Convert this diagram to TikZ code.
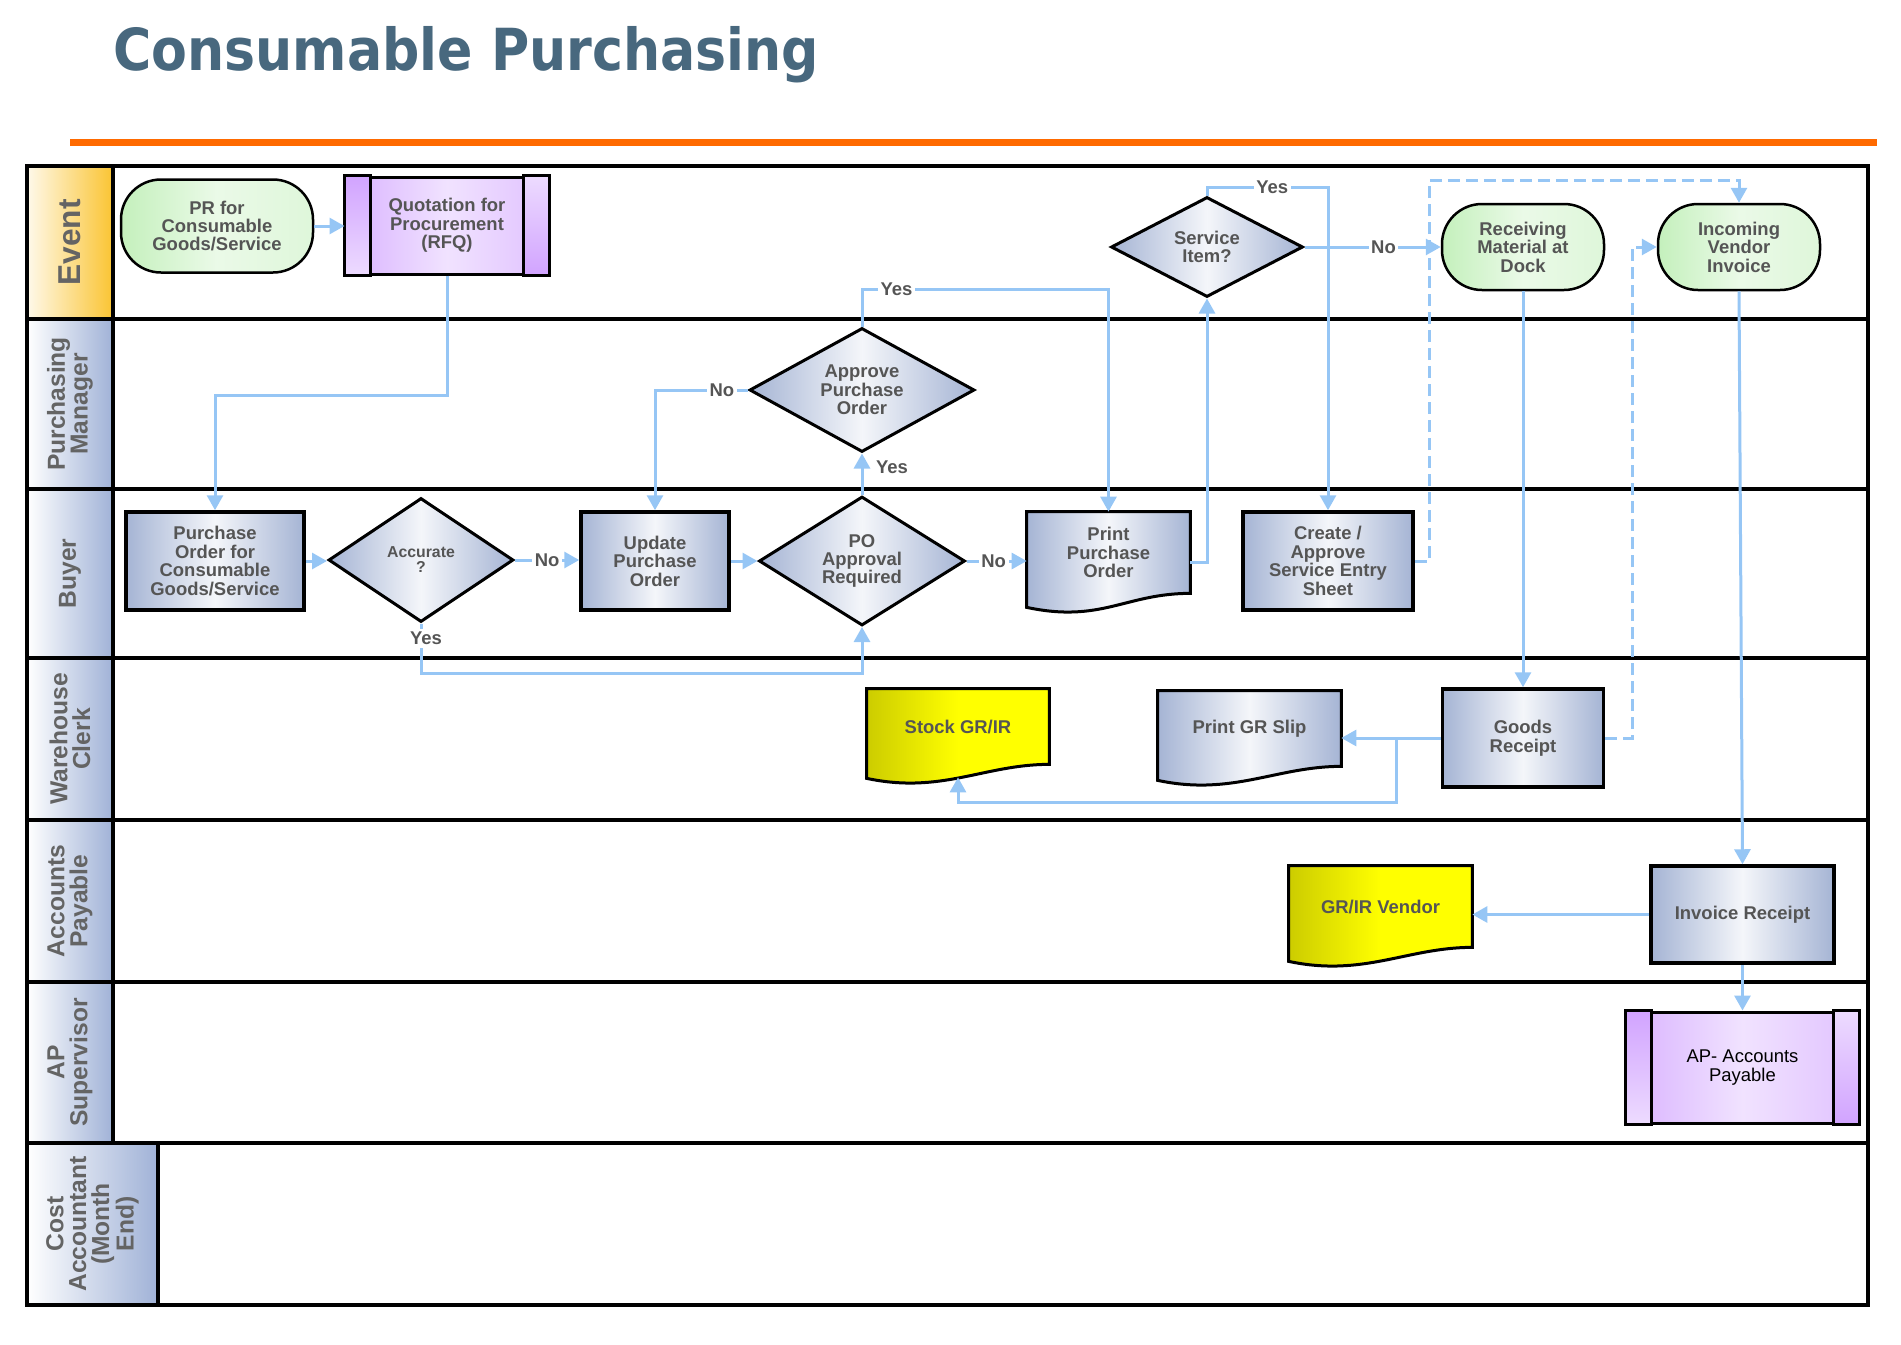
\documentclass[tikz,border=0pt]{standalone}
\usepackage{fontspec}
\setmainfont{Liberation Sans}
\newfontfamily\titlefont{DejaVu Sans}
\usepackage{xcolor}
\usepackage{tikz}
\usetikzlibrary{shapes.geometric,arrows.meta,calc,backgrounds}

\definecolor{flowblue}{RGB}{150,198,245}
\definecolor{titleblue}{RGB}{72,104,126}
\definecolor{barorange}{RGB}{255,106,0}
\definecolor{txtgray}{RGB}{85,85,85}
\definecolor{hdrgray}{RGB}{100,100,100}
\definecolor{hdrblue}{RGB}{160,178,215}
\definecolor{hdrorange}{RGB}{250,196,50}
\definecolor{procblue}{RGB}{165,180,212}
\definecolor{termgreen}{RGB}{196,240,188}
\definecolor{predefpurple}{RGB}{204,153,255}

\newcommand{\docshape}[2]{%
  \path[draw, line width=0.6mm, #2] (#1.north west) -- (#1.north east) -- (#1.south east)
    .. controls +(-65,0) and +(75,16) .. ($(#1.south west)+(0,14)$) -- cycle;}
\newcommand{\predefstrips}[1]{%
  \draw[line width=0.6mm, top color=predefpurple!90!white, bottom color=predefpurple!35!white]
    (#1.north west) rectangle ($(#1.south west)+(26,0)$);
  \draw[line width=0.6mm, top color=predefpurple!35!white, bottom color=predefpurple!90!white]
    ($(#1.north east)+(-26,0)$) rectangle (#1.south east);}

\begin{document}
\begin{tikzpicture}[x=0.2mm, y=-0.2mm,
    txt/.style={font=\fontsize{10.5}{10.5}\selectfont\bfseries, text=txtgray, align=center},
    box/.style 2 args={minimum width=#1*0.2mm, minimum height=#2*0.2mm, inner sep=0pt},
    procfill/.style={left color=procblue, right color=procblue, middle color=procblue!12!white},
    yellowfill/.style={left color=yellow!80!black, right color=yellow, middle color=yellow},
    proc/.style={txt, draw, line width=0.7mm, procfill},
    decide/.style={txt, diamond, aspect=2, draw, line width=0.6mm, procfill},
    term/.style={txt, draw, line width=0.5mm, rounded corners=8mm, left color=termgreen, right color=termgreen!55!white, middle color=termgreen!35!white},
    predef/.style={txt, draw, line width=0.6mm, left color=predefpurple!75!white, right color=predefpurple!60!white, middle color=predefpurple!28!white},
    doc/.style={txt},
    lbl/.style={txt, fill=white, inner sep=1.5pt},
    flow/.style={draw=flowblue, line width=0.6mm, -{Triangle[width=3.2mm,length=3mm]}},
    dashflow/.style={flow, dash pattern=on 2.4mm off 1.2mm},
    lane/.style={line width=0.9mm},
    lanehead/.style={font=\fontsize{14}{13}\selectfont\bfseries, text=hdrgray, align=center, rotate=90}]
  \useasboundingbox (0,0) rectangle (1901,1345);

  \node[anchor=base west, font=\titlefont\bfseries\fontsize{33}{36}\selectfont, text=titleblue, inner sep=0pt]
    (title) at (113,70) {\scalebox{0.9}[1]{Consumable Purchasing}};
  \draw[barorange, line width=1.4mm] (70,142) -- (1877,142);

  \path[left color=white!90!hdrorange, right color=hdrorange] (27,166) rectangle (113,319);
  \node[lanehead, font=\fontsize{18}{18}\selectfont\bfseries] (head0) at (70,242.5) {Event};
  \foreach \ya/\yb/\xb/\name [count=\i] in {319/489/113/{Purchasing\\Manager}, 489/658/113/Buyer,
      658/820/113/{Warehouse\\Clerk}, 820/982/113/{Accounts\\Payable}, 982/1143/113/{AP\\Supervisor},
      1143/1305/158/{Cost\\Accountant\\(Month\\End)}}
  {
    \path[left color=white, right color=hdrblue] (27,\ya) rectangle (\xb,\yb);
    \node[lanehead] (head\i) at ({(27+\xb)/2},{(\ya+\yb)/2}) {\name};
  }
  \draw[lane] (27,166) rectangle (1868,1305);
  \foreach \y in {319,489,658,820,982,1143}
    \draw[lane] (27,\y) -- (1868,\y);
  \draw[lane] (113,166) -- (113,1143);
  \draw[lane] (158,1143) -- (158,1305);

  \node[term, box={192}{93}] (pr) at (217,226) {PR for\\Consumable\\Goods/Service};
  \node[predef, box={202}{97}] (rfq) at (447,225.5) {Quotation for\\Procurement\\(RFQ)};
  \node[decide, box={192}{100}] (svc) at (1207,247) {Service\\Item?};
  \node[term, box={162}{86}] (rcv) at (1523,247) {Receiving\\Material at\\Dock};
  \node[term, box={162}{86}] (inv) at (1739,247) {Incoming\\Vendor\\Invoice};
  \node[decide, box={225}{124}] (apo) at (862,390) {Approve\\Purchase\\Order};
  \node[proc, box={178}{98}] (poc) at (215,561) {Purchase\\Order for\\Consumable\\Goods/Service};
  \node[decide, box={185}{124}, font=\fontsize{9}{8.5}\selectfont\bfseries] (acc) at (421,560) {Accurate\\?};
  \node[proc, box={148}{98}] (upd) at (655,561) {Update\\Purchase\\Order};
  \node[decide, box={206}{129}] (poa) at (862,561) {PO\\Approval\\Required};
  \node[doc, box={163}{81}] (ppo) at (1108.5,552.5) {Print\\Purchase\\Order};
  \node[proc, box={170}{98}] (cas) at (1328,561) {Create /\\Approve\\Service Entry\\Sheet};
  \node[doc, box={182}{75}] (sgr) at (958,726.5) {Stock GR/IR};
  \node[doc, box={183}{75}] (pgs) at (1249.5,728.5) {Print GR Slip};
  \node[proc, box={161}{98}] (grc) at (1523,738) {Goods\\Receipt};
  \node[doc, box={183}{81}] (grv) at (1380.5,906.5) {GR/IR Vendor};
  \node[proc, box={183}{97}] (irc) at (1742.5,914.5) {Invoice Receipt};
  \node[predef, box={231}{111}, font=\fontsize{10.5}{10.5}\selectfont, text=black] (apa) at (1742.5,1067.5) {AP- Accounts\\Payable};
  \predefstrips{rfq}
  \predefstrips{apa}

  \begin{scope}[on background layer]
    \docshape{ppo}{procfill}
    \docshape{pgs}{procfill}
    \docshape{sgr}{yellowfill}
    \docshape{grv}{yellowfill}
  \end{scope}

  \draw[flow] (pr.east) -- (pr.east -| rfq.west);
  \draw[flow] (rfq.south) -- ++(0,120) -| (poc.north);
  \draw[flow] (poc.east) -- (poc.east -| acc.west);
  \draw[flow] (acc.east) -- node[lbl]{No} (acc.east -| upd.west);
  \draw[flow] (acc.south) -- node[lbl, pos=0.3, xshift=1mm]{Yes} ++(0,50) -| (poa.south);
  \draw[flow] (upd.east) -- (poa.west);
  \draw[flow] (poa.north) -- node[lbl, right=2mm, pos=0.67]{Yes} (apo.south);
  \draw[flow] (apo.west) -| node[lbl, pos=0.14]{No} (upd.north);
  \draw[flow] (apo.north) -- ++(0,-37) -| node[lbl, pos=0.07]{Yes} (ppo.north);
  \draw[flow] (poa.east) -- node[lbl, pos=0.45]{No} (poa.east -| ppo.west);
  \draw[flow] ($(ppo.east)+(0,10)$) -| (svc.south);
  \draw[flow] (svc.north) -- ++(0,-8) -| node[lbl, pos=0.27]{Yes} (cas.north);
  \draw[flow] (svc.east) -- node[lbl, pos=0.58]{No} (rcv.west);
  \draw[dashflow] (cas.east) -| ++(15,-381) -| (inv.north);
  \draw[flow] (rcv.south) -- (grc.north);
  \draw[dashflow] (grc.east) -- ++(27,0) |- (inv.west);
  \draw[flow] (grc.west) -- (grc.west -| pgs.east);
  \draw[flow] (grc.west) -| ++(-44,64) -| ($(sgr.south)+(0,13)$);
  \draw[flow] (inv.south) -- (irc.north);
  \draw[flow] (irc.west) -- (irc.west -| grv.east);
  \draw[flow] (irc.south) -- (apa.north);
\end{tikzpicture}
\end{document}
